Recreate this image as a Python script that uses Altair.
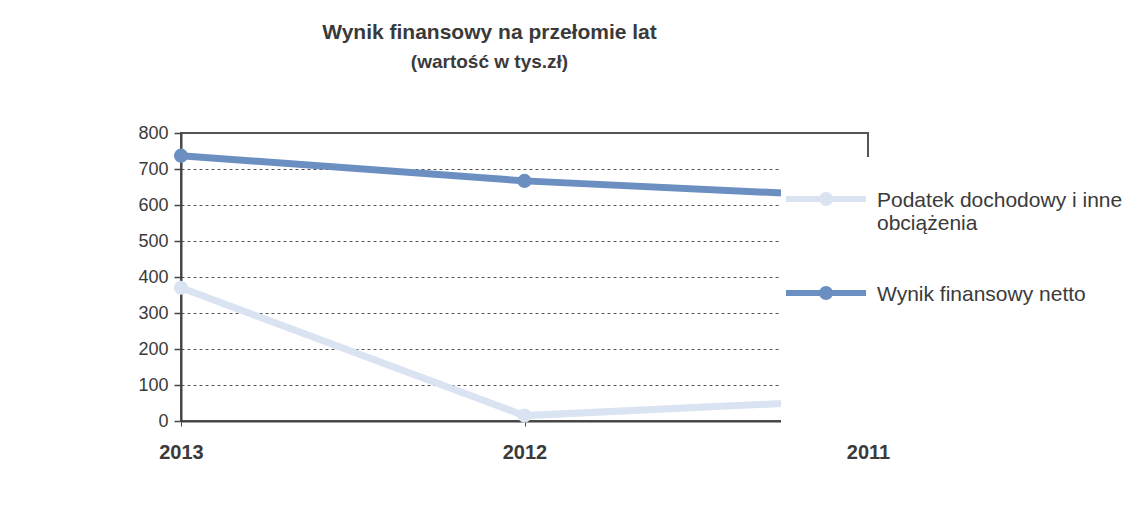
import altair as alt
import pandas as pd

years = ["2013", "2012", "2011"]
series_names = ["Podatek dochodowy i inne obciążenia", "Wynik finansowy netto"]
podatek = [370, 15, 60]
wynik = [737, 667, 622]
series_colors = ["#d9e3f1", "#6b8fc0"]
legend_lines = {
    "Podatek dochodowy i inne obciążenia": ["Podatek dochodowy i inne", "obciążenia"],
    "Wynik finansowy netto": ["Wynik finansowy netto", "", "", "", "", ""],
}

rows = []
for name, vals in zip(series_names, [podatek, wynik]):
    for y, v in zip(years, vals):
        rows.append({"rok": y, "seria": name, "wartosc": v})
df = pd.DataFrame(rows)

label_expr = " : ".join(
    [f"datum.label == '{k}' ? {v!r}" for k, v in legend_lines.items()] + ["datum.label"]
)

# legend symbol: a line with a disc in the middle (disc = small circle stroked thick)
sym_path = ("M-2,0.45L2,0.45M0.2,0.45A0.2,0.2,0,1,1,-0.2,0.45"
            "A0.2,0.2,0,1,1,0.2,0.45Z")

color = alt.Color(
    "seria:N",
    scale=alt.Scale(domain=series_names, range=series_colors),
    legend=alt.Legend(
        title=None, orient="none", legendX=600, legendY=24,
        fillColor="white", padding=10, zindex=5,
        symbolType=sym_path, symbolSize=1600, symbolStrokeWidth=6,
        symbolOffset=12,
        symbolFillColor="transparent", symbolOpacity=1,
        labelExpr=label_expr, labelBaseline="top",
        labelFont="Liberation Sans", labelFontSize=21, labelColor="#3a3a3a",
        labelOffset=28, labelLimit=400, rowPadding=27,
    ),
)

x = alt.X(
    "rok:N", sort=years, title=None,
    scale=alt.Scale(type="point", padding=0),
    axis=alt.Axis(labelAngle=0, labelFont="Liberation Sans", labelFontSize=20,
                  labelFontWeight="bold", labelColor="#3a3a3a", labelPadding=16,
                  tickSize=5, tickColor="#444", domainColor="#444", domainWidth=2,
                  grid=False),
)
y = alt.Y(
    "wartosc:Q", title=None,
    scale=alt.Scale(domain=[0, 800], nice=False),
    axis=alt.Axis(values=list(range(0, 801, 100)), labelFont="Liberation Sans",
                  labelFontSize=18, labelColor="#3a3a3a", labelPadding=6,
                  tickSize=7, tickColor="#444", tickWidth=1.5,
                  domainColor="#444", domainWidth=2,
                  grid=True, gridColor="#555", gridDash=[3, 3], gridWidth=1),
)

base = alt.Chart(df)
lines = base.mark_line(strokeWidth=7).encode(x=x, y=y, color=color)
points = base.mark_circle(size=200, opacity=1).encode(
    x=x, y=y, color=alt.Color("seria:N", legend=None,
                              scale=alt.Scale(domain=series_names, range=series_colors)))

chart = alt.layer(lines, points).properties(
    width=687, height=288,
    autosize=alt.AutoSizeParams(type="none"),
    padding={"left": 173, "top": 125, "right": 259, "bottom": 86},
    background="white",
    title=alt.TitleParams(
        "Wynik finansowy na przełomie lat",
        subtitle="(wartość w tys.zł)",
        anchor="middle", dx=-35, offset=52,
        font="Liberation Sans", fontSize=21, fontWeight="bold", color="#3a3a3a",
        subtitleFont="Liberation Sans", subtitleFontSize=19,
        subtitleFontWeight="bold", subtitleColor="#3a3a3a", subtitlePadding=10,
    ),
).configure_view(stroke="#555", strokeWidth=2)

chart.save("out.html", embed_options={"renderer": "svg", "actions": False})
